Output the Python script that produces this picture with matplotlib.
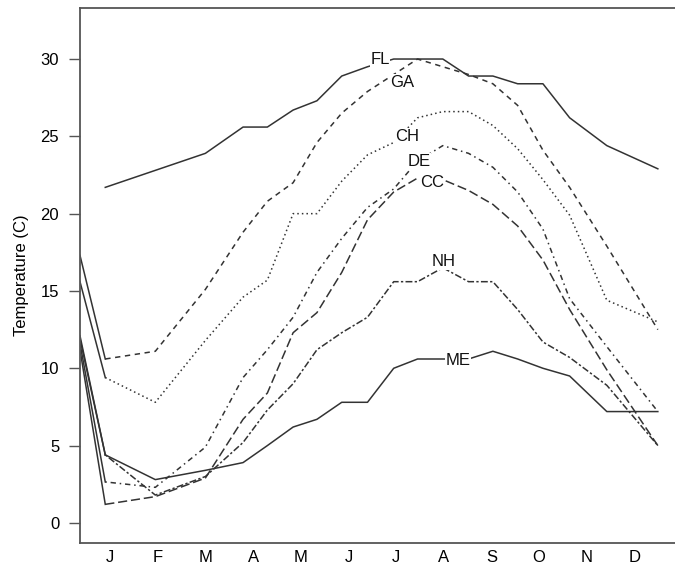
import numpy as np
import matplotlib
matplotlib.use("Agg")
import matplotlib.pyplot as plt

plt.rcParams['font.family'] = ['Liberation Sans', 'DejaVu Sans']

# time points in month units (1 = J ... 12 = D), first point sits on the left edge
months = [0.37, 0.9, 1.95, 3.0, 3.79, 4.3, 4.84, 5.34, 5.86, 6.4, 6.95,
          7.45, 7.98, 8.52, 9.03, 9.55, 10.08, 10.64, 11.42, 12.49]
month_ticks = [1, 2, 3, 4, 5, 6, 7, 8, 9, 10, 11, 12]
month_labels = ['J', 'F', 'M', 'A', 'M', 'J', 'J', 'A', 'S', 'O', 'N', 'D']

FL = [np.nan, 21.7, 22.8, 23.9, 25.6, 25.6, 26.7, 27.3, 28.9, 29.5, 30.0,
      30.0, 30.0, 28.9, 28.9, 28.4, 28.4, 26.2, 24.4, 22.9]
GA = [17.3, 10.6, 11.1, 15.1, 18.8, 20.8, 22.0, 24.6, 26.5, 27.9, 29.0,
      30.0, 29.5, 29.0, 28.4, 27.0, 24.1, 21.7, 17.9, 12.5]
CH = [15.6, 9.4, 7.8, 11.8, 14.6, 15.7, 20.0, 20.0, 22.1, 23.8, 24.6,
      26.2, 26.6, 26.6, 25.7, 24.2, 22.2, 19.9, 14.4, 13.0]
DE = [11.6, 2.65, 2.3, 4.9, 9.4, 11.2, 13.3, 16.2, 18.4, 20.4, 21.6,
      23.4, 24.4, 23.9, 23.0, 21.4, 19.0, 14.5, 11.4, 7.2]
CC = [11.2, 1.2, 1.7, 2.9, 6.7, 8.4, 12.3, 13.6, 16.2, 19.6, 21.4,
      22.3, 22.2, 21.5, 20.6, 19.2, 17.0, 13.8, 9.9, 5.0]
NH = [11.9, 4.4, 1.8, 3.0, 5.2, 7.3, 9.0, 11.2, 12.3, 13.3, 15.6,
      15.6, 16.5, 15.6, 15.6, 13.8, 11.7, 10.7, 8.9, 5.0]
ME = [12.1, 4.4, 2.8, 3.4, 3.9, 5.0, 6.2, 6.7, 7.8, 7.8, 10.0,
      10.6, 10.6, 10.6, 11.1, 10.6, 10.0, 9.5, 7.2, 7.2]

names = ['FL', 'GA', 'CH', 'DE', 'CC', 'NH', 'ME']
series = [FL, GA, CH, DE, CC, NH, ME]
styles = ['-', (0, (3.5, 3)), (0, (1, 2)), (0, (1, 2.5, 3.5, 2.5)),
          (0, (6, 2.5)), (0, (1.5, 1.5, 4.5, 1.5)), '-']
label_x = [6.66, 7.12, 7.23, 7.48, 7.75, 8.0, 8.3]
label_y = [30.0, 28.5, 25.0, 23.4, 22.0, 16.9, 10.5]

fig = plt.figure(figsize=(6.75, 5.7), dpi=100)
ax = fig.add_axes([80 / 675, 27 / 570, 595 / 675, 535 / 570])

line_col = '#333333'
for name, vals, ls, lx, ly in zip(names, series, styles, label_x, label_y):
    v = np.array(vals, dtype=float)
    # drop from the left edge down to January is drawn plain
    ax.plot(months[:2], v[:2], color=line_col, lw=1.1, ls='-')
    ax.plot(months[1:], v[1:], color=line_col, lw=1.1, ls=ls)
    ax.text(lx, ly, name, fontsize=12, ha='center', va='center', color='#111111',
            bbox=dict(facecolor='white', edgecolor='none', pad=0.5), zorder=5)

ax.set_xlim(0.37, 12.85)
ax.set_ylim(-1.3, 33.3)
ax.set_xticks(month_ticks)
ax.set_xticklabels(month_labels)
ax.set_yticks([0, 5, 10, 15, 20, 25, 30])
ax.tick_params(axis='x', length=0, labelsize=12, pad=5)
ax.tick_params(axis='y', length=8, width=1, color='#555555', labelsize=12, pad=7)
ax.set_ylabel('Temperature (C)', fontsize=12, labelpad=8)

ax.spines['right'].set_visible(False)
for s in ['left', 'bottom', 'top']:
    ax.spines[s].set_color('#555555')
    ax.spines[s].set_linewidth(1.3)

fig.savefig('out.png', dpi=100)
